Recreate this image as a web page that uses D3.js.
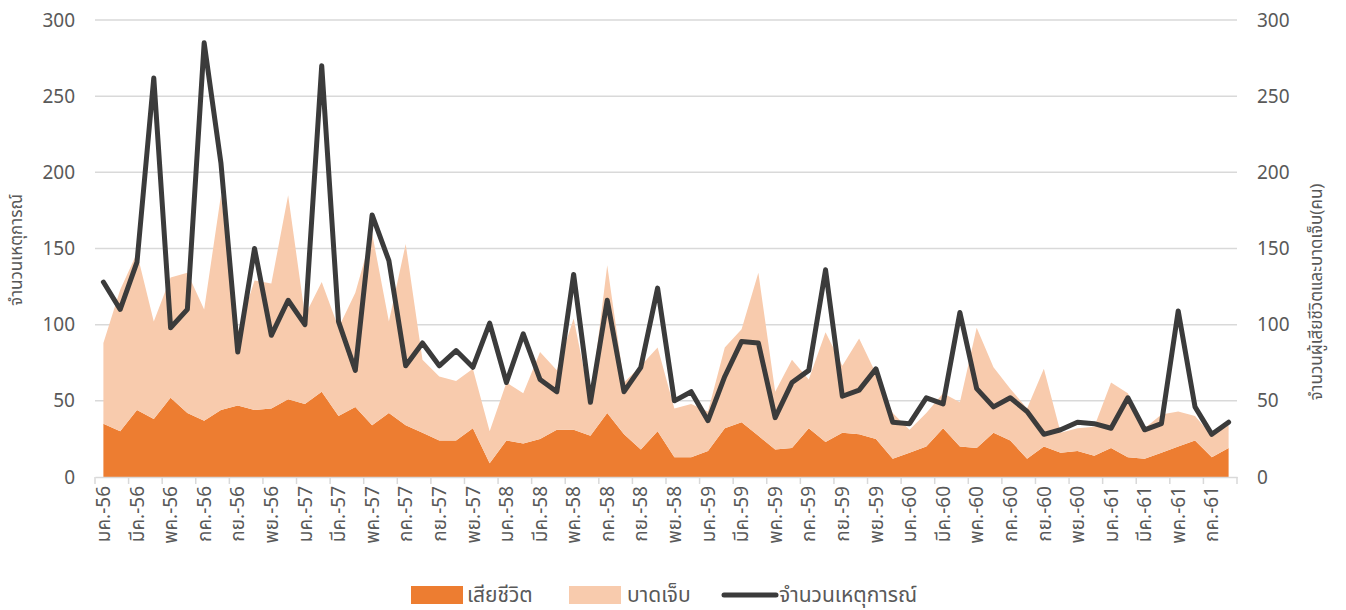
<!DOCTYPE html>
<html>
<head>
<meta charset="utf-8">
<script src="https://cdn.jsdelivr.net/npm/d3@7"></script>
<style>
  body { margin: 0; background: #fff; }
  svg text { font-family: "Noto Sans Thai", "Noto Sans", "DejaVu Sans", sans-serif; fill: #595959; }
</style>
</head>
<body>
<svg id="chart"></svg>
<script>
const monthNames = ["มค.", "กพ.", "มีค.", "เมย.", "พค.", "มิย.", "กค.", "สค.", "กย.", "ตค.", "พย.", "ธค."];
const years = ["56", "57", "58", "59", "60", "61"];
// มค.-56 .. สค.-61, 68 months
const months = [];
years.forEach(y => monthNames.forEach(m => months.push(m + "-" + y)));
months.length = 68;

const deaths = [35, 30, 44, 38, 52, 42, 37, 44, 47, 44, 45, 51,
  48, 56, 40, 46, 34, 42, 34, 29, 24, 24, 32, 9,
  24, 22, 25, 31, 31, 27, 42, 28, 18, 30, 13, 13,
  17, 32, 36, 27, 18, 19, 32, 23, 29, 28, 25, 12,
  16, 20, 32, 20, 19, 29, 24, 12, 20, 16, 17, 14,
  19, 13, 12, 16, 20, 24, 13, 19];

const injured = [53, 93, 103, 64, 79, 92, 73, 141, 48, 85, 82, 134,
  58, 72, 58, 75, 126, 60, 119, 48, 42, 39, 39, 21,
  38, 33, 57, 39, 73, 22, 97, 34, 55, 55, 32, 35,
  26, 53, 61, 107, 38, 58, 32, 72, 44, 63, 43, 30,
  15, 22, 23, 29, 79, 43, 34, 33, 51, 13, 15, 19,
  43, 42, 20, 25, 23, 16, 14, 15];

const incidents = [128, 110, 141, 262, 98, 110, 285, 206, 82, 150, 93, 116,
  100, 270, 102, 70, 172, 142, 73, 88, 73, 83, 72, 101,
  62, 94, 64, 56, 133, 49, 116, 56, 72, 124, 50, 56,
  37, 66, 89, 88, 39, 62, 70, 136, 53, 57, 71, 36,
  35, 52, 48, 108, 58, 46, 52, 43, 28, 31, 36, 35,
  32, 52, 31, 35, 109, 46, 28, 36];

const yTicks = [0, 50, 100, 150, 200, 250, 300];

const W = 1346, H = 610;
const plot = { left: 95, right: 1237, top: 20, bottom: 477 };

const svg = d3.select("#chart").attr("width", W).attr("height", H);

const x = d3.scaleBand().domain(months).range([plot.left, plot.right]).padding(0);
const cx = d => x(d) + x.bandwidth() / 2;
const y = d3.scaleLinear().domain([0, 300]).range([plot.bottom, plot.top]);
const y2 = d3.scaleLinear().domain([0, 300]).range([plot.bottom, plot.top]);

// grid
svg.append("g")
  .selectAll("line")
  .data(yTicks.slice(1))
  .join("line")
  .attr("x1", plot.left).attr("x2", plot.right)
  .attr("y1", d => y(d)).attr("y2", d => y(d))
  .attr("stroke", "#d9d9d9").attr("stroke-width", 1.5);

// stacked areas
const rows = months.map((m, i) => ({ m, dead: deaths[i], hurt: injured[i] }));
const series = d3.stack().keys(["dead", "hurt"])(rows);
const colors = { dead: "#ED7D31", hurt: "#F8CBAD" };

const area = d3.area()
  .x(d => cx(d.data.m))
  .y0(d => y2(d[0]))
  .y1(d => y2(d[1]));

svg.append("g")
  .selectAll("path")
  .data(series)
  .join("path")
  .attr("fill", d => colors[d.key])
  .attr("d", area);

// x axis
const xAxis = d3.axisBottom(x)
  .tickValues(months.filter((m, i) => i % 2 === 0))
  .tickSize(0)
  .tickPadding(10);

const gx = svg.append("g")
  .attr("transform", `translate(0,${plot.bottom})`)
  .call(xAxis);
gx.select(".domain").attr("stroke", "#d9d9d9").attr("stroke-width", 1.5);
gx.selectAll("text")
  .attr("font-size", 19)
  .attr("transform", "rotate(-90)")
  .attr("text-anchor", "end")
  .attr("dy", "0.35em")
  .attr("x", -9)
  .attr("y", 0);

// boundary tick marks every two months
const tickPos = d3.range(0, months.length + 1, 2).map(i => plot.left + i * x.bandwidth());
svg.append("g")
  .selectAll("line")
  .data(tickPos)
  .join("line")
  .attr("x1", d => d).attr("x2", d => d)
  .attr("y1", plot.bottom).attr("y2", plot.bottom + 7)
  .attr("stroke", "#d9d9d9").attr("stroke-width", 1.5);

// y axes
const gy = svg.append("g")
  .attr("transform", `translate(${plot.left},0)`)
  .call(d3.axisLeft(y).tickValues(yTicks).tickSize(0).tickPadding(20));
gy.select(".domain").remove();
gy.selectAll("text").attr("font-size", 19);

const gy2 = svg.append("g")
  .attr("transform", `translate(${plot.right},0)`)
  .call(d3.axisRight(y2).tickValues(yTicks).tickSize(0).tickPadding(20));
gy2.select(".domain").remove();
gy2.selectAll("text").attr("font-size", 19);

// incidents line
const line = d3.line()
  .x((d, i) => cx(months[i]))
  .y(d => y(d));

svg.append("path")
  .datum(incidents)
  .attr("fill", "none")
  .attr("stroke", "#3b3b3b")
  .attr("stroke-width", 5)
  .attr("stroke-linejoin", "round")
  .attr("stroke-linecap", "round")
  .attr("d", line);

// axis titles
svg.append("text")
  .attr("transform", "translate(22,250) rotate(-90)")
  .attr("text-anchor", "middle")
  .attr("font-size", 17)
  .text("จำนวนเหตุการณ์");

svg.append("text")
  .attr("transform", "translate(1322,292) rotate(-90)")
  .attr("text-anchor", "middle")
  .attr("font-size", 17)
  .text("จำนวนผู้เสียชีวิตและบาดเจ็บ(คน)");

// legend
const legend = svg.append("g").attr("transform", "translate(0,595)");
legend.append("rect").attr("x", 411).attr("y", -9).attr("width", 52).attr("height", 18).attr("fill", colors.dead);
legend.append("text").attr("x", 467).attr("y", 0).attr("dy", "0.35em").attr("font-size", 21).text("เสียชีวิต");
legend.append("rect").attr("x", 569).attr("y", -9).attr("width", 52).attr("height", 18).attr("fill", colors.hurt);
legend.append("text").attr("x", 627).attr("y", 0).attr("dy", "0.35em").attr("font-size", 21).text("บาดเจ็บ");
legend.append("line").attr("x1", 724).attr("x2", 776).attr("y1", 0).attr("y2", 0)
  .attr("stroke", "#3b3b3b").attr("stroke-width", 5).attr("stroke-linecap", "round");
legend.append("text").attr("x", 779).attr("y", 0).attr("dy", "0.35em").attr("font-size", 21).text("จำนวนเหตุการณ์");
</script>
</body>
</html>
